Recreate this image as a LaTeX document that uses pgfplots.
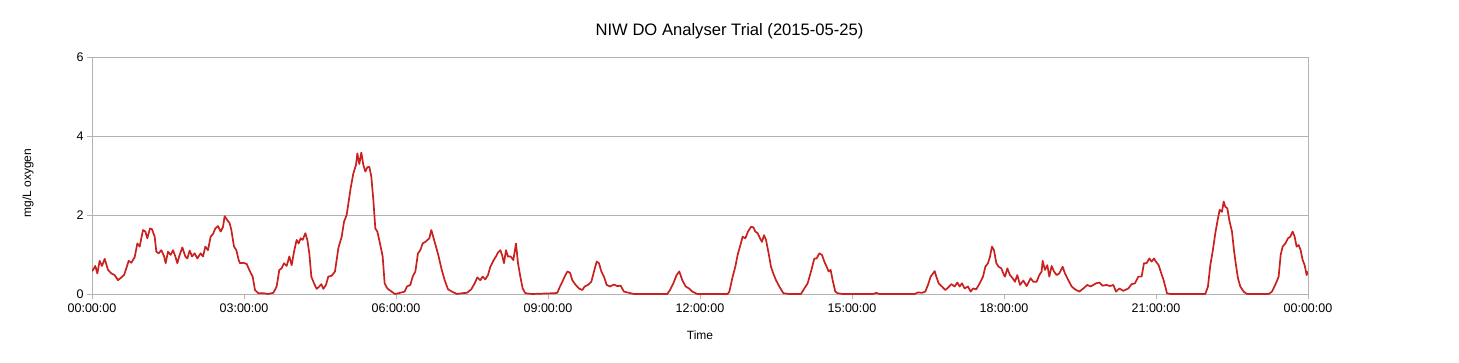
\documentclass[border=0pt]{standalone}
\usepackage{pgfplots}
\pgfplotsset{compat=1.18}
\usepackage{fontspec}
\setmainfont{Liberation Sans}
\definecolor{doRed}{HTML}{C9211E}
\definecolor{gridGray}{HTML}{B3B3B3}
\begin{document}
\begin{tikzpicture}
\useasboundingbox (0,0) rectangle (1459pt,362pt);
\begin{axis}[
  at={(92pt,68pt)}, anchor=south west,
  scale only axis, width=1216pt, height=237pt,
  xmin=0, xmax=24, ymin=0, ymax=6,
  xtick={0,3,6,9,12,15,18,21,24},
  xticklabels={00:00:00,03:00:00,06:00:00,09:00:00,12:00:00,15:00:00,18:00:00,21:00:00,00:00:00},
  ytick={0,2,4,6},
  xtick pos=bottom, ytick pos=left,
  tick align=outside, major tick length=5pt,
  ymajorgrids, grid style={gridGray, line width=0.8pt},
  axis line style={gridGray, line width=0.8pt},
  tick style={gridGray, line width=0.8pt},
  /pgf/number format/assume math mode=true,
  tick label style={font=\fontsize{12.5}{15}\selectfont, text=black},
  xticklabel style={yshift=-1pt},
  title={NIW DO Analyser Trial (2015-05-25)},
  title style={font=\fontsize{16.6}{20}\selectfont, at={(axis description cs:0.5243,1.0844)}, anchor=center},
  xlabel={Time},
  xlabel style={font=\fontsize{12}{14}\selectfont, at={(axis description cs:0.5,-0.173)}, anchor=center},
  ylabel={mg/L oxygen},
  ylabel style={font=\fontsize{12}{14}\selectfont, at={(axis description cs:-0.0526,0.468)}, anchor=center},
]
\addplot[doRed, line width=1.7pt, no markers, line join=round] table {
x y
0.000 0.58
0.020 0.61
0.066 0.71
0.105 0.52
0.151 0.84
0.197 0.71
0.250 0.89
0.316 0.61
0.382 0.52
0.447 0.48
0.513 0.35
0.579 0.42
0.632 0.48
0.678 0.65
0.724 0.84
0.776 0.79
0.842 0.93
0.895 1.28
0.941 1.20
1.007 1.62
1.053 1.58
1.092 1.41
1.145 1.66
1.184 1.64
1.237 1.45
1.270 1.07
1.316 1.03
1.368 1.11
1.421 0.96
1.454 0.78
1.500 1.07
1.553 0.99
1.599 1.11
1.645 0.95
1.684 0.78
1.730 0.99
1.783 1.18
1.842 0.95
1.882 0.90
1.928 1.10
1.974 0.95
2.026 1.03
2.079 0.90
2.145 1.03
2.191 0.95
2.237 1.20
2.289 1.11
2.342 1.45
2.388 1.52
2.434 1.66
2.487 1.72
2.539 1.58
2.586 1.70
2.618 1.97
2.671 1.87
2.717 1.79
2.750 1.62
2.803 1.20
2.849 1.11
2.895 0.86
2.921 0.78
2.987 0.79
3.053 0.76
3.118 0.57
3.171 0.44
3.217 0.10
3.283 0.02
3.382 0.02
3.480 0.00
3.579 0.03
3.645 0.19
3.697 0.61
3.743 0.65
3.789 0.78
3.842 0.71
3.895 0.95
3.941 0.73
3.987 1.07
4.039 1.37
4.079 1.28
4.118 1.41
4.158 1.37
4.211 1.54
4.250 1.37
4.289 1.03
4.329 0.44
4.382 0.27
4.434 0.13
4.487 0.19
4.526 0.25
4.566 0.13
4.618 0.23
4.664 0.44
4.730 0.46
4.796 0.57
4.862 1.16
4.928 1.45
4.974 1.83
5.026 2.00
5.066 2.34
5.105 2.68
5.158 3.05
5.211 3.27
5.237 3.56
5.276 3.29
5.316 3.58
5.355 3.27
5.395 3.10
5.434 3.21
5.474 3.22
5.513 2.97
5.553 2.38
5.592 1.66
5.632 1.58
5.684 1.28
5.737 0.95
5.776 0.27
5.829 0.14
5.914 0.06
5.980 0.00
6.053 0.02
6.171 0.06
6.217 0.19
6.283 0.23
6.329 0.44
6.382 0.57
6.434 1.03
6.480 1.11
6.526 1.28
6.579 1.32
6.632 1.38
6.658 1.41
6.697 1.62
6.743 1.41
6.789 1.20
6.842 0.95
6.895 0.65
6.961 0.35
7.026 0.12
7.105 0.06
7.204 0.00
7.303 0.02
7.401 0.03
7.487 0.12
7.553 0.27
7.605 0.42
7.664 0.35
7.711 0.44
7.763 0.37
7.816 0.48
7.862 0.69
7.928 0.86
7.974 0.95
8.013 1.05
8.059 1.11
8.092 0.99
8.132 0.78
8.171 1.11
8.211 0.95
8.263 0.95
8.316 0.86
8.368 1.28
8.408 0.78
8.454 0.44
8.500 0.14
8.553 0.02
8.684 0.00
9.118 0.02
9.184 0.03
9.237 0.19
9.283 0.31
9.329 0.44
9.382 0.57
9.434 0.54
9.480 0.35
9.546 0.23
9.612 0.14
9.678 0.10
9.724 0.19
9.789 0.23
9.855 0.31
9.908 0.57
9.961 0.82
10.007 0.78
10.053 0.57
10.105 0.44
10.158 0.23
10.224 0.19
10.303 0.24
10.368 0.20
10.434 0.21
10.500 0.06
10.599 0.03
10.697 0.00
11.355 0.00
11.408 0.10
11.474 0.27
11.539 0.48
11.592 0.57
11.651 0.35
11.717 0.19
11.783 0.14
11.849 0.06
11.947 0.00
12.546 0.00
12.579 0.06
12.645 0.44
12.697 0.69
12.743 0.99
12.789 1.20
12.842 1.45
12.895 1.41
12.947 1.58
13.007 1.70
13.053 1.69
13.092 1.58
13.138 1.54
13.184 1.41
13.224 1.32
13.263 1.49
13.303 1.37
13.355 1.03
13.401 0.69
13.447 0.52
13.500 0.35
13.566 0.19
13.645 0.02
13.763 0.00
13.993 0.00
14.059 0.14
14.125 0.27
14.191 0.57
14.257 0.90
14.303 0.90
14.355 1.03
14.408 0.99
14.454 0.82
14.500 0.69
14.539 0.57
14.579 0.61
14.618 0.35
14.671 0.06
14.717 0.02
14.816 0.00
15.420 0.00
15.480 0.03
15.540 0.00
16.237 0.00
16.303 0.04
16.382 0.03
16.447 0.06
16.500 0.23
16.553 0.44
16.599 0.52
16.632 0.58
16.664 0.44
16.711 0.27
16.776 0.19
16.842 0.10
16.895 0.16
16.961 0.25
17.026 0.19
17.079 0.29
17.125 0.19
17.171 0.27
17.224 0.14
17.289 0.19
17.342 0.06
17.388 0.14
17.454 0.12
17.520 0.27
17.586 0.44
17.632 0.69
17.684 0.78
17.724 0.95
17.763 1.20
17.803 1.11
17.849 0.78
17.895 0.69
17.947 0.65
18.000 0.48
18.020 0.44
18.066 0.65
18.118 0.48
18.171 0.40
18.217 0.31
18.263 0.48
18.316 0.23
18.382 0.34
18.447 0.20
18.526 0.40
18.579 0.31
18.645 0.31
18.697 0.48
18.743 0.57
18.763 0.84
18.809 0.61
18.855 0.73
18.895 0.44
18.941 0.71
18.987 0.57
19.039 0.48
19.092 0.52
19.158 0.69
19.204 0.52
19.270 0.35
19.336 0.19
19.401 0.12
19.487 0.06
19.566 0.14
19.645 0.23
19.711 0.19
19.816 0.27
19.882 0.29
19.947 0.21
20.026 0.23
20.092 0.20
20.158 0.23
20.211 0.06
20.276 0.14
20.355 0.08
20.454 0.14
20.520 0.25
20.586 0.27
20.651 0.44
20.717 0.44
20.763 0.78
20.816 0.78
20.868 0.90
20.914 0.82
20.961 0.90
20.987 0.84
21.053 0.73
21.105 0.52
21.151 0.35
21.217 0.02
21.283 0.00
21.974 0.00
22.026 0.19
22.072 0.73
22.118 1.07
22.171 1.54
22.217 1.87
22.257 2.13
22.303 2.08
22.336 2.34
22.368 2.21
22.408 2.17
22.447 1.87
22.500 1.58
22.539 1.11
22.579 0.73
22.618 0.40
22.664 0.19
22.730 0.06
22.796 0.00
23.224 0.00
23.289 0.06
23.368 0.27
23.421 0.44
23.461 0.99
23.500 1.20
23.553 1.28
23.605 1.41
23.651 1.45
23.697 1.58
23.737 1.45
23.776 1.20
23.816 1.24
23.855 1.11
23.895 0.86
23.934 0.73
23.974 0.48
24.000 0.57
};
\end{axis}
\end{tikzpicture}
\end{document}
